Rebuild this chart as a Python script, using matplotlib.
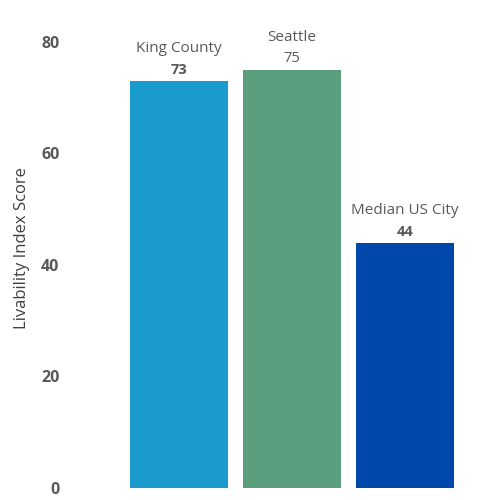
import matplotlib
matplotlib.use('Agg')
import matplotlib.pyplot as plt

categories = ['King County', 'Seattle', 'Median US City']
scores = [73, 75, 44]
bold_value = [True, False, True]
colors = ['#1a9bcd', '#5b9e7e', '#0047ab']
yticks = [0, 20, 40, 60, 80]

plt.rcParams['font.family'] = ['Open Sans', 'DejaVu Sans']

fig = plt.figure(figsize=(5, 5), dpi=100)
ax = fig.add_axes([111 / 500, 12 / 500, 361.6 / 500, 479.5 / 500])

x = range(len(categories))
bars = ax.bar(x, scores, width=98 / 113, color=colors)

ax.set_xlim(-0.6, 2.6)
ax.set_ylim(0, 86)

# name above value, value just above the bar
for i, (cat, val) in enumerate(zip(categories, scores)):
    ax.annotate(str(val), (i, val), xytext=(0, 3), textcoords='offset points',
                ha='center', va='bottom', fontsize=10.5,
                fontweight='bold' if bold_value[i] else 'normal', color='#595959')
    ax.annotate(cat, (i, val), xytext=(0, 18), textcoords='offset points',
                ha='center', va='bottom', fontsize=11, color='#595959')

ax.set_yticks(yticks)
ax.set_yticklabels([str(t) for t in yticks], fontweight='bold', fontsize=11.5, color='#595959')
ax.tick_params(axis='y', length=0, pad=37)
ax.set_xticks([])
for s in ax.spines.values():
    s.set_visible(False)

ax.set_ylabel('Livability Index Score', fontsize=12, color='#404040', labelpad=8)

fig.savefig('out.png', dpi=100)
